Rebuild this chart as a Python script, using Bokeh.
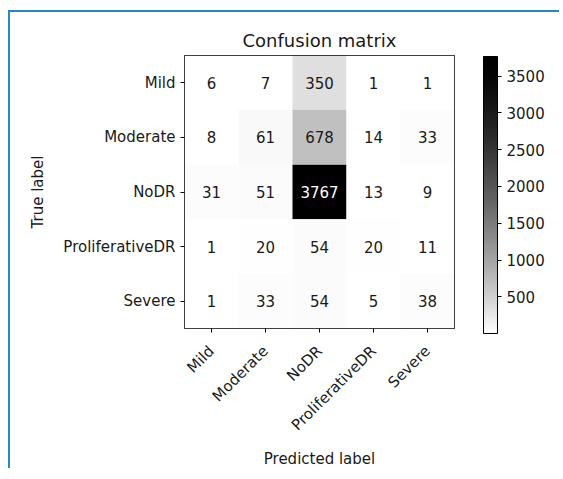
import math
from bokeh.plotting import figure
from bokeh.models import (ColumnDataSource, LinearColorMapper, ColorBar, FixedTicker,
                          FactorRange)
from bokeh.core.properties import value
from bokeh.embed import file_html
from bokeh.resources import INLINE

# ---- data ----
classes = ["Mild", "Moderate", "NoDR", "ProliferativeDR", "Severe"]
row_mild = [6, 7, 350, 1, 1]
row_moderate = [8, 61, 678, 14, 33]
row_nodr = [31, 51, 3767, 13, 9]
row_prolif = [1, 20, 54, 20, 11]
row_severe = [1, 33, 54, 5, 38]
matrix = [row_mild, row_moderate, row_nodr, row_prolif, row_severe]
cbar_ticks = [500, 1000, 1500, 2000, 2500, 3000, 3500]

# ---- build table ----
xs, ys, vals, labels, tcolors = [], [], [], [], []
vmax = max(max(r) for r in matrix)
vmin = min(min(r) for r in matrix)
for i, true_lab in enumerate(classes):
    for j, pred_lab in enumerate(classes):
        v = matrix[i][j]
        xs.append(pred_lab)
        ys.append(true_lab)
        vals.append(v)
        labels.append(str(v))
        tcolors.append("white" if v > vmax / 2 else "#1a1a1a")
src = ColumnDataSource(dict(x=xs, y=ys, v=vals, t=labels, tc=tcolors))

# grey palette, white -> black
palette = []
for k in range(256):
    t = k / 255
    g = int(round(255 * (1 - t) ** 1.43))
    palette.append("#%02x%02x%02x" % (g, g, g))
mapper = LinearColorMapper(palette=palette, low=vmin, high=vmax)

W, H = 551, 458
FL, FT, FW, FH = 174, 43, 270, 277

p = figure(width=W, height=H, output_backend="svg", toolbar_location=None,
           x_range=FactorRange(factors=classes),
           y_range=FactorRange(factors=list(reversed(classes))),
           title="Confusion matrix",
           min_border_left=FL, min_border_top=FT,
           min_border_right=W - FL - FW, min_border_bottom=H - FT - FH)
p.styles = {"border-left": "2px solid #2389c7", "border-top": "2px solid #2389c7",
            "margin-top": "10px", "margin-left": "8px"}

p.rect(x="x", y="y", width=1, height=1, source=src,
       fill_color={"field": "v", "transform": mapper}, line_color=None)
p.text(x="x", y="y", text="t", source=src, text_color="tc",
       text_align="center", text_baseline="middle", text_font_size="15px",
       text_font=value("DejaVu Sans"))

p.title.text_font = "DejaVu Sans"
p.title.text_font_size = "18px"
p.title.text_font_style = "normal"
p.title.align = "center"
p.title.text_color = "#1a1a1a"

p.grid.grid_line_color = None
p.outline_line_color = "black"
p.outline_line_width = 1
p.outline_line_alpha = 1
p.background_fill_color = "white"
p.border_fill_color = "white"

for ax in (p.xaxis[0], p.yaxis[0]):
    ax.axis_line_color = None
    ax.major_tick_line_color = "black"
    ax.major_tick_out = 4
    ax.major_tick_in = 0
    ax.minor_tick_line_color = None
    ax.major_label_text_font = "DejaVu Sans"
    ax.major_label_text_font_size = "15px"
    ax.major_label_text_color = "#1a1a1a"
    ax.axis_label_text_font = "DejaVu Sans"
    ax.axis_label_text_font_size = "15px"
    ax.axis_label_text_font_style = "normal"
    ax.axis_label_text_color = "#1a1a1a"
    ax.major_label_standoff = 5

p.xaxis.axis_label = "Predicted label"
p.yaxis.axis_label = "True label"
p.xaxis.major_label_orientation = math.pi / 4
p.xaxis.major_label_standoff = 16
p.xaxis.axis_label_standoff = 6
p.yaxis.axis_label_standoff = 13

cb = ColorBar(color_mapper=mapper, ticker=FixedTicker(ticks=cbar_ticks),
              width=14, height=FH, padding=0, margin=0,
              location=(29, -5),
              bar_line_color="black", bar_line_width=1,
              major_tick_line_color="black", major_tick_in=0, major_tick_out=4,
              minor_tick_line_color=None,
              major_label_text_font="DejaVu Sans",
              major_label_text_font_size="15px",
              major_label_text_color="#1a1a1a",
              label_standoff=5,
              background_fill_color=None, border_line_color=None)
p.add_layout(cb, "right")

open("out.html", "w").write(file_html(p, INLINE))
